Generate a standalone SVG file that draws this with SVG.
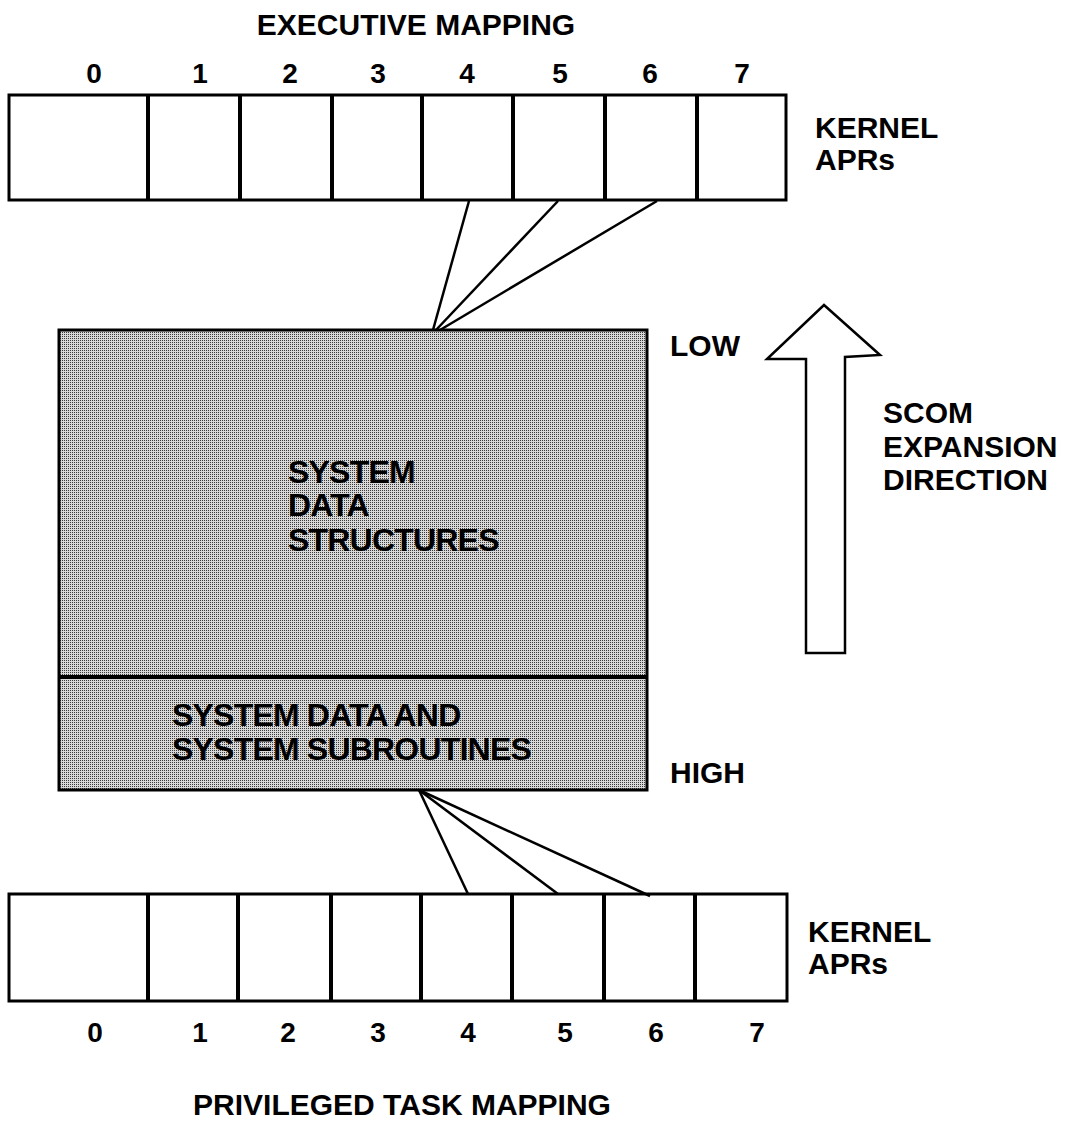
<svg xmlns="http://www.w3.org/2000/svg" width="1066" height="1125" viewBox="0 0 1066 1125">
<style>
text{font-family:"Liberation Sans",Arial,sans-serif;font-weight:bold;fill:#000}
.lbl{font-size:30px}
.num{font-size:28px;text-anchor:middle}
.inner{font-size:32px;letter-spacing:-0.8px}
.box{fill:#fff;stroke:#000;stroke-width:3}
.div{stroke:#000;stroke-width:4}
.conn{stroke:#000;stroke-width:2.5;fill:none}
</style>
<defs>
<pattern id="stip" width="2" height="2" patternUnits="userSpaceOnUse">
<rect width="2" height="2" fill="#d8d8d8"/>
<rect x="0" y="0" width="1" height="1" fill="#3a3a3a"/>
</pattern>
</defs>
<rect width="1066" height="1125" fill="#fff"/>

<text class="lbl" x="416" y="35" text-anchor="middle">EXECUTIVE MAPPING</text>

<g id="top-aprs">
<rect class="box" x="9" y="95" width="777" height="105"/>
<line class="div" x1="148" y1="95" x2="148" y2="200"/>
<line class="div" x1="240" y1="95" x2="240" y2="200"/>
<line class="div" x1="332" y1="95" x2="332" y2="200"/>
<line class="div" x1="422" y1="95" x2="422" y2="200"/>
<line class="div" x1="513" y1="95" x2="513" y2="200"/>
<line class="div" x1="605" y1="95" x2="605" y2="200"/>
<line class="div" x1="697" y1="95" x2="697" y2="200"/>
<text class="num" x="94" y="83">0</text>
<text class="num" x="200" y="83">1</text>
<text class="num" x="290" y="83">2</text>
<text class="num" x="378" y="83">3</text>
<text class="num" x="467" y="83">4</text>
<text class="num" x="560" y="83">5</text>
<text class="num" x="650" y="83">6</text>
<text class="num" x="742" y="83">7</text>
<text class="lbl" x="815" y="138">KERNEL</text>
<text class="lbl" x="815" y="170">APRs</text>
</g>

<g id="memory">
<rect x="59" y="330" width="588" height="460" fill="url(#stip)" stroke="#000" stroke-width="3"/>
<line x1="59" y1="677" x2="647" y2="677" stroke="#000" stroke-width="4"/>
<text class="inner" x="288" y="483">SYSTEM</text>
<text class="inner" x="288" y="516">DATA</text>
<text class="inner" x="288" y="551">STRUCTURES</text>
<text class="inner" x="172" y="726">SYSTEM DATA AND</text>
<text class="inner" x="172" y="760">SYSTEM SUBROUTINES</text>
<text class="lbl" x="670" y="356">LOW</text>
<text class="lbl" x="670" y="783">HIGH</text>
</g>

<g id="expansion">
<path d="M824,305 L880,355 L845,357 L845,653 L806,653 L806,359 L767,359 Z" fill="#fff" stroke="#000" stroke-width="2.5" stroke-linejoin="miter"/>
<text class="lbl" x="883" y="423">SCOM</text>
<text class="lbl" x="883" y="457">EXPANSION</text>
<text class="lbl" x="883" y="490">DIRECTION</text>
</g>

<g id="bottom-aprs">
<rect class="box" x="9" y="894" width="778" height="107"/>
<line class="div" x1="148" y1="894" x2="148" y2="1001"/>
<line class="div" x1="238" y1="894" x2="238" y2="1001"/>
<line class="div" x1="331" y1="894" x2="331" y2="1001"/>
<line class="div" x1="421" y1="894" x2="421" y2="1001"/>
<line class="div" x1="512" y1="894" x2="512" y2="1001"/>
<line class="div" x1="604" y1="894" x2="604" y2="1001"/>
<line class="div" x1="695" y1="894" x2="695" y2="1001"/>
<text class="num" x="95" y="1042">0</text>
<text class="num" x="200" y="1042">1</text>
<text class="num" x="288" y="1042">2</text>
<text class="num" x="378" y="1042">3</text>
<text class="num" x="468" y="1042">4</text>
<text class="num" x="565" y="1042">5</text>
<text class="num" x="656" y="1042">6</text>
<text class="num" x="757" y="1042">7</text>
<text class="lbl" x="808" y="942">KERNEL</text>
<text class="lbl" x="808" y="974">APRs</text>
</g>

<text class="lbl" x="402" y="1115" text-anchor="middle">PRIVILEGED TASK MAPPING</text>

<g id="connectors">
<line class="conn" x1="469" y1="201" x2="433" y2="330"/>
<line class="conn" x1="558" y1="201" x2="436" y2="330"/>
<line class="conn" x1="657" y1="201" x2="440" y2="330"/>
<line class="conn" x1="419" y1="790" x2="468" y2="894"/>
<line class="conn" x1="419" y1="790" x2="558" y2="894"/>
<line class="conn" x1="419" y1="790" x2="650" y2="896"/>
</g>
</svg>
